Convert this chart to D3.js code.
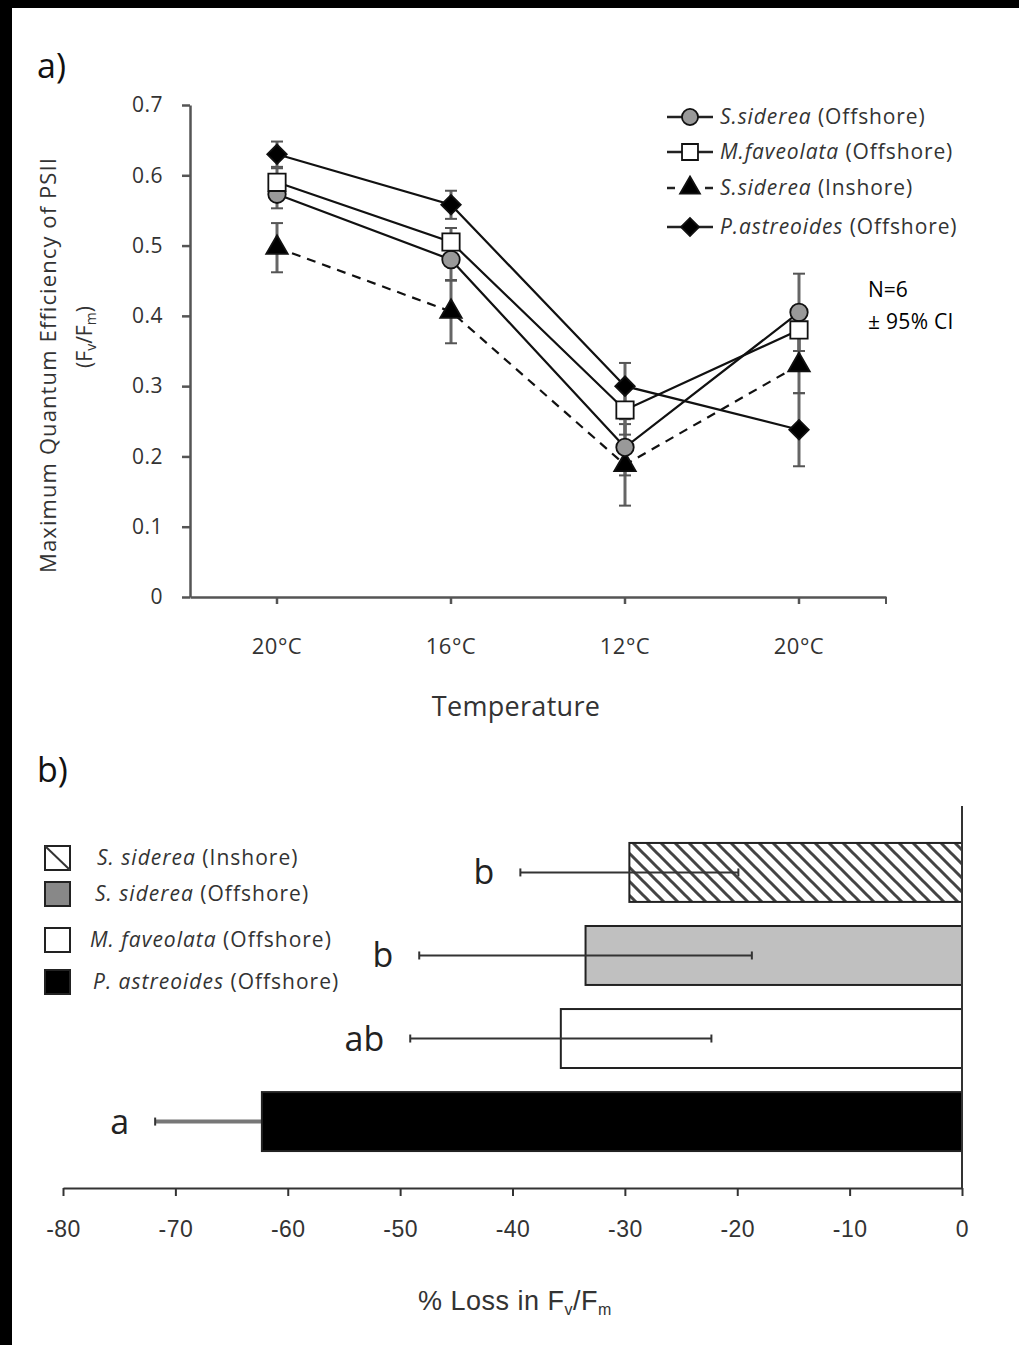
<!DOCTYPE html>
<html>
<head>
<meta charset="utf-8">
<script src="https://cdn.jsdelivr.net/npm/d3@7"></script>
<style>
  html, body { margin: 0; padding: 0; background: #fff; }
  svg { display: block; }
</style>
</head>
<body>
<svg id="chart" width="1019" height="1345"></svg>
<script>
// ---------- DATA: panel a ----------
const temps = ["20°C", "16°C", "12°C", "20°C"];
const yTicksA = [0, 0.1, 0.2, 0.3, 0.4, 0.5, 0.6, 0.7];
const sidOff   = [0.573, 0.480, 0.213, 0.405];
const sidOffCI = [0.020, 0.030, 0.040, 0.055];
const mfav     = [0.590, 0.505, 0.266, 0.380];
const mfavCI   = [0.020, 0.020, 0.035, 0.030];
const sidIn    = [0.497, 0.406, 0.188, 0.330];
const sidInCI  = [0.035, 0.045, 0.058, 0.040];
const past     = [0.630, 0.558, 0.300, 0.238];
const pastCI   = [0.018, 0.020, 0.033, 0.052];

// ---------- DATA: panel b ----------
const barCats   = ["S. siderea (Inshore)", "S. siderea (Offshore)", "M. faveolata (Offshore)", "P. astreoides (Offshore)"];
const barSpecies = ["S. siderea", "S. siderea", "M. faveolata", "P. astreoides"];
const barSites  = ["(Inshore)", "(Offshore)", "(Offshore)", "(Offshore)"];
const loss      = [-29.6, -33.5, -35.7, -62.3];
const lossCI    = [9.7, 14.8, 13.4, 9.5];
const letters   = ["b", "b", "ab", "a"];
const xTicksB   = [-80, -70, -60, -50, -40, -30, -20, -10, 0];

const svg = d3.select("#chart");
const FONT = "'Open Sans', 'Noto Sans', sans-serif";
const NARROW = "'Liberation Sans Narrow', 'Liberation Sans', Arial, sans-serif";
const AX = "#555";

// black frame edges (left and top) as in reference
svg.append("rect").attr("x", 0).attr("y", 0).attr("width", 1019).attr("height", 8).attr("fill", "#000");
svg.append("rect").attr("x", 0).attr("y", 0).attr("width", 12).attr("height", 1345).attr("fill", "#000");

// defs: hatch pattern
const defs = svg.append("defs");
const pat = defs.append("pattern").attr("id", "hatch").attr("patternUnits", "userSpaceOnUse")
  .attr("width", 14).attr("height", 14);
pat.append("rect").attr("width", 14).attr("height", 14).attr("fill", "#fff");
pat.append("path").attr("d", "M0,0 L14,14 M-7,7 L7,21 M7,-7 L21,7")
  .attr("stroke", "#444").attr("stroke-width", 3);

// ================= PANEL A =================
svg.append("text").attr("x", 37).attr("y", 78).attr("font-family", FONT)
  .attr("font-size", 34).attr("fill", "#111").text("a)");

const xA = d3.scaleBand().domain(d3.range(4)).range([190, 886]);
const yA = d3.scaleLinear().domain([0, 0.7]).range([597, 105]);
const cx = i => xA(i) + xA.bandwidth() / 2;

// y axis
const yAxisA = d3.axisLeft(yA).tickValues(yTicksA).tickSize(8).tickSizeOuter(0)
  .tickFormat(d => d === 0 ? "0" : d3.format(".1f")(d));
const gyA = svg.append("g").attr("transform", "translate(190,0)").call(yAxisA);
gyA.select(".domain").attr("stroke", AX).attr("stroke-width", 2.5);
gyA.selectAll(".tick line").attr("stroke", AX).attr("stroke-width", 2.5);
gyA.selectAll(".tick text").attr("font-family", FONT).attr("font-size", 21)
  .attr("fill", "#333").attr("x", -27).attr("letter-spacing", 0.5);

// x axis
const xAxisA = d3.axisBottom(xA).tickSize(7).tickSizeOuter(0).tickFormat(i => temps[i]);
const gxA = svg.append("g").attr("transform", "translate(0,597)").call(xAxisA);
gxA.select(".domain").attr("stroke", AX).attr("stroke-width", 2.5);
gxA.selectAll(".tick line").attr("stroke", AX).attr("stroke-width", 2.5);
gxA.selectAll(".tick text").attr("font-family", FONT).attr("font-size", 22)
  .attr("fill", "#333").attr("dy", 0).attr("y", 57).attr("letter-spacing", 0.5);
svg.append("line").attr("x1", 886).attr("x2", 886).attr("y1", 597).attr("y2", 604)
  .attr("stroke", AX).attr("stroke-width", 2);

svg.append("text").attr("x", 516).attr("y", 716).attr("text-anchor", "middle")
  .attr("font-family", FONT).attr("font-size", 27).attr("fill", "#333").attr("letter-spacing", 0.3).text("Temperature");

// y title
svg.append("text").attr("transform", "translate(56,365) rotate(-90)")
  .attr("text-anchor", "middle").attr("font-family", FONT).attr("font-size", 22)
  .attr("fill", "#333").attr("letter-spacing", 1.1).text("Maximum Quantum Efficiency of PSII");
const yt2 = svg.append("text").attr("transform", "translate(92,337) rotate(-90)")
  .attr("text-anchor", "middle").attr("font-family", FONT).attr("font-size", 21).attr("fill", "#333");
yt2.append("tspan").text("(F");
yt2.append("tspan").attr("font-size", 14).attr("dy", 4).text("v");
yt2.append("tspan").attr("dy", -4).text("/F");
yt2.append("tspan").attr("font-size", 14).attr("dy", 4).text("m");
yt2.append("tspan").attr("dy", -4).text(")");

// series
const series = [
  { vals: sidIn,  ci: sidInCI,  sym: d3.symbolTriangle, rot: 0,  fill: "#000", dash: "9,7", size: 200, name: "S.siderea", site: " (Inshore)" },
  { vals: sidOff, ci: sidOffCI, sym: d3.symbolCircle,   rot: 0,  fill: "#999", dash: null,  size: 240, name: "S.siderea", site: " (Offshore)" },
  { vals: mfav,   ci: mfavCI,   sym: d3.symbolSquare,   rot: 0,  fill: "#fff", dash: null,  size: 300, name: "M.faveolata", site: " (Offshore)" },
  { vals: past,   ci: pastCI,   sym: d3.symbolSquare,   rot: 45, fill: "#000", dash: null,  size: 190, name: "P.astreoides", site: " (Offshore)" }
];

const line = d3.line().x((d, i) => cx(i)).y(d => yA(d));

// error bars first
series.forEach(s => {
  const g = svg.append("g");
  s.vals.forEach((v, i) => {
    const x = cx(i), y1 = yA(v + s.ci[i]), y2 = yA(v - s.ci[i]);
    g.append("line").attr("x1", x).attr("x2", x).attr("y1", y1).attr("y2", y2)
      .attr("stroke", "#666").attr("stroke-width", 3);
    [y1, y2].forEach(yy => g.append("line").attr("x1", x - 6).attr("x2", x + 6)
      .attr("y1", yy).attr("y2", yy).attr("stroke", "#555").attr("stroke-width", 2));
  });
});
// lines
series.forEach(s => {
  svg.append("path").attr("d", line(s.vals)).attr("fill", "none")
    .attr("stroke", "#111").attr("stroke-width", 2.2)
    .attr("stroke-dasharray", s.dash);
});
// markers
series.forEach(s => {
  svg.append("g").selectAll("path").data(s.vals).join("path")
    .attr("d", d3.symbol().type(s.sym).size(s.size))
    .attr("transform", (d, i) => `translate(${cx(i)},${yA(d)}) rotate(${s.rot})`)
    .attr("fill", s.fill).attr("stroke", "#111").attr("stroke-width", 1.8);
});

// legend panel a
const legOrder = [1, 2, 0, 3];
const legY = [117, 152, 188, 227];
legOrder.forEach((si, k) => {
  const s = series[si];
  const y = legY[k];
  const g = svg.append("g");
  if (s.dash) {
    g.append("line").attr("x1", 667).attr("x2", 675).attr("y1", y).attr("y2", y).attr("stroke", "#222").attr("stroke-width", 2.5);
    g.append("line").attr("x1", 705).attr("x2", 713).attr("y1", y).attr("y2", y).attr("stroke", "#222").attr("stroke-width", 2.5);
  } else {
    g.append("line").attr("x1", 667).attr("x2", 713).attr("y1", y).attr("y2", y).attr("stroke", "#222").attr("stroke-width", 2.5);
  }
  g.append("path").attr("d", d3.symbol().type(s.sym).size(s.size * 0.85))
    .attr("transform", `translate(690,${y}) rotate(${s.rot})`).attr("fill", s.fill)
    .attr("stroke", "#111").attr("stroke-width", 1.8);
  const t = g.append("text").attr("x", 720).attr("y", y + 7).attr("font-family", FONT)
    .attr("font-size", 21).attr("fill", "#333").attr("letter-spacing", 0.9);
  t.append("tspan").attr("font-style", "italic").text(s.name);
  t.append("tspan").text(s.site);
});

svg.append("text").attr("x", 868).attr("y", 297).attr("font-family", FONT)
  .attr("font-size", 21).attr("fill", "#000").text("N=6");
svg.append("text").attr("x", 868).attr("y", 329).attr("font-family", FONT)
  .attr("font-size", 21).attr("fill", "#000").attr("letter-spacing", 0.3).text("± 95% CI");

// ================= PANEL B =================
svg.append("text").attr("x", 37).attr("y", 782).attr("font-family", FONT)
  .attr("font-size", 34).attr("fill", "#111").text("b)");

const xB = d3.scaleLinear().domain([-80, 0]).range([63, 962]);
const yB = d3.scaleBand().domain(barCats).range([806, 1188]).paddingInner(0.29).paddingOuter(0.445);

const fills = ["url(#hatch)", "#c0c0c0", "#fff", "#000"];

function errorBar(i) {
  const c = barCats[i];
  const y = yB(c) + yB.bandwidth() / 2;
  const x1 = xB(loss[i] - lossCI[i]), x2 = xB(loss[i] + lossCI[i]);
  svg.append("line").attr("x1", x1).attr("x2", x2).attr("y1", y).attr("y2", y)
    .attr("stroke", fills[i] === "#000" ? "#777" : "#333").attr("stroke-width", fills[i] === "#000" ? 4 : 2);
  [x1, x2].forEach(xx => svg.append("line").attr("x1", xx).attr("x2", xx)
    .attr("y1", y - 4).attr("y2", y + 4).attr("stroke", "#333").attr("stroke-width", 2));
  svg.append("text").attr("x", x1 - 26).attr("y", y + 12).attr("text-anchor", "end")
    .attr("font-family", FONT).attr("font-size", 34).attr("fill", "#222").text(letters[i]);
}

// error bars lying inside the solid black bar are hidden behind it
barCats.forEach((c, i) => { if (fills[i] === "#000") errorBar(i); });

// bars
svg.append("g").selectAll("rect").data(barCats).join("rect")
  .attr("x", (d, i) => xB(loss[i])).attr("y", d => yB(d))
  .attr("width", (d, i) => xB(0) - xB(loss[i])).attr("height", yB.bandwidth())
  .attr("fill", (d, i) => fills[i]).attr("stroke", "#222").attr("stroke-width", 2);

barCats.forEach((c, i) => { if (fills[i] !== "#000") errorBar(i); });

// axes
const xAxisB = d3.axisBottom(xB).tickValues(xTicksB).tickSize(8).tickSizeOuter(0).tickFormat(d => String(d));
const gxB = svg.append("g").attr("transform", "translate(0,1188)").call(xAxisB);
gxB.select(".domain").attr("stroke", "#333").attr("stroke-width", 2);
gxB.selectAll(".tick line").attr("stroke", "#333").attr("stroke-width", 2);
gxB.selectAll(".tick text").attr("font-family", NARROW).attr("font-size", 23)
  .attr("fill", "#333").attr("dy", 0).attr("y", 49).attr("letter-spacing", 0.5);

svg.append("line").attr("x1", xB(0)).attr("x2", xB(0)).attr("y1", 806).attr("y2", 1188)
  .attr("stroke", "#333").attr("stroke-width", 2);

const xtB = svg.append("text").attr("x", 515).attr("y", 1310).attr("text-anchor", "middle")
  .attr("font-family", NARROW).attr("font-size", 27).attr("fill", "#333").attr("letter-spacing", 0.5);
xtB.append("tspan").text("% Loss in F");
xtB.append("tspan").attr("font-size", 16).attr("dy", 5).text("v");
xtB.append("tspan").attr("dy", -5).text("/F");
xtB.append("tspan").attr("font-size", 16).attr("dy", 5).text("m");

// legend panel b
const legBY = [858, 894, 940, 982];
const legFill = ["#fff", "#888", "#fff", "#000"];
const legTx = [97, 95, 90, 93];
barCats.forEach((c, i) => {
  const y = legBY[i];
  svg.append("rect").attr("x", 45).attr("y", y - 12).attr("width", 25).attr("height", 24)
    .attr("fill", legFill[i]).attr("stroke", "#222").attr("stroke-width", 2);
  if (i === 0) {
    svg.append("line").attr("x1", 45).attr("y1", y - 12).attr("x2", 70).attr("y2", y + 12)
      .attr("stroke", "#333").attr("stroke-width", 2);
  }
  const t = svg.append("text").attr("x", legTx[i]).attr("y", y + 7).attr("font-family", FONT)
    .attr("font-size", 21).attr("fill", "#333").attr("letter-spacing", 1);
  t.append("tspan").attr("font-style", "italic").text(barSpecies[i]);
  t.append("tspan").text(" " + barSites[i]);
});
</script>
</body>
</html>
